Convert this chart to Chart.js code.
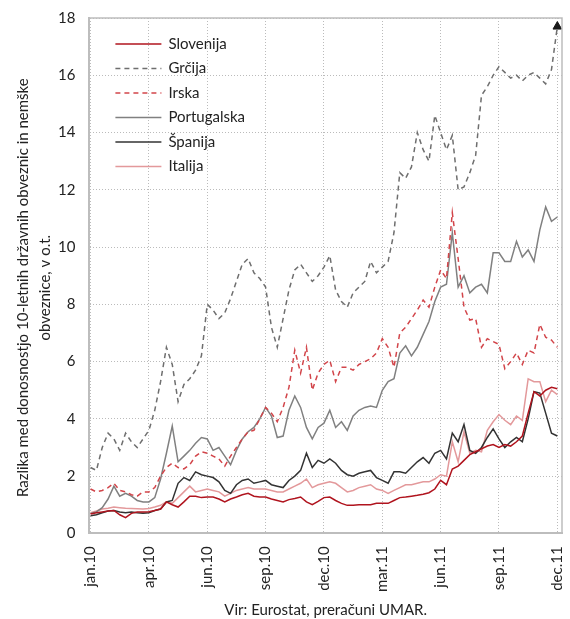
<!DOCTYPE html>
<html>
<head>
<meta charset="utf-8">
<script src="https://cdn.jsdelivr.net/npm/chart.js@4.4.0/dist/chart.umd.min.js"></script>
<style>
    html, body { margin: 0; padding: 0; background: #fff; }
    #wrap { width: 570px; height: 619px; }
</style>
</head>
<body>
<div id="wrap"><canvas id="spreadChart"></canvas></div>
<script>
// one label every 10 points
const tickLabels = ["jan.10", "apr.10", "jun.10", "sep.10", "dec.10", "mar.11", "jun.11", "sep.11", "dec.11"];

const slovenia = [0.68, 0.72, 0.75, 0.78, 0.8, 0.65, 0.55, 0.7, 0.75, 0.75,
    0.76, 0.8, 0.85, 1.1, 1.0, 0.92, 1.1, 1.3, 1.3, 1.25,
    1.27, 1.27, 1.2, 1.1, 1.2, 1.27, 1.35, 1.4, 1.3, 1.27,
    1.27, 1.2, 1.15, 1.1, 1.18, 1.22, 1.27, 1.1, 1.0, 1.12,
    1.25, 1.27, 1.15, 1.05, 0.98, 0.98, 1.0, 1.0, 1.0, 1.05,
    1.05, 1.05, 1.15, 1.25, 1.27, 1.3, 1.33, 1.37, 1.42, 1.55,
    1.85, 1.7, 2.25, 2.35, 2.55, 2.75, 2.85, 2.95, 3.05, 3.1,
    3.0, 3.1, 3.05, 3.2, 3.4, 4.2, 4.95, 4.8, 5.0, 5.1,
    5.05];

const greece = [2.3, 2.2, 3.0, 3.5, 3.3, 2.9, 3.5, 3.2, 3.0, 3.3,
    3.6, 4.3, 5.3, 6.5, 5.9, 4.6, 5.2, 5.4, 5.7, 6.2,
    8.0, 7.8, 7.5, 7.7, 8.2, 8.8, 9.4, 9.6, 9.1, 8.9,
    8.6, 7.2, 6.5, 7.5, 8.5, 9.2, 9.4, 9.1, 8.8, 9.0,
    9.3, 9.7, 8.5, 8.1, 7.9, 8.4, 8.6, 8.8, 9.5, 9.1,
    9.3, 9.5, 10.5, 12.6, 12.4, 12.8, 14.0, 13.4, 13.0, 14.6,
    14.0, 13.4, 13.9, 12.0, 12.1, 12.6, 13.2, 15.3, 15.6, 16.0,
    16.3, 16.1, 15.9, 16.0, 15.8, 16.0, 16.1, 15.9, 15.7, 16.2,
    17.7];

const ireland = [1.55, 1.45, 1.5, 1.6, 1.75, 1.5, 1.45, 1.35, 1.3, 1.45,
    1.45, 1.6, 2.0, 2.3, 2.45, 2.3, 2.25, 2.4, 2.7, 2.85,
    2.8, 2.7, 2.6, 2.35, 2.7, 3.0, 3.3, 3.55, 3.6, 4.0,
    4.4, 4.2, 3.9, 4.4, 5.1, 6.4, 5.6, 6.5, 5.0, 5.6,
    5.9, 6.05, 5.3, 5.8, 5.8, 5.7, 5.9, 6.0, 6.1, 6.3,
    6.8, 6.5, 5.8, 7.0, 7.2, 7.5, 7.8, 8.15, 7.9, 8.6,
    9.2, 8.9, 11.2, 9.6, 7.9, 7.45, 7.5, 6.5, 6.8, 6.7,
    6.6, 5.75, 6.0, 6.3, 5.9, 6.4, 6.3, 7.3, 6.85, 6.75,
    6.5];

const portugal = [0.7, 0.75, 0.9, 1.2, 1.65, 1.3, 1.4, 1.3, 1.15, 1.1,
    1.1, 1.25, 1.9, 2.8, 3.75, 2.5, 2.7, 2.9, 3.15, 3.35,
    3.3, 2.9, 3.0, 2.7, 2.4, 2.9, 3.3, 3.55, 3.7, 4.0,
    4.4, 4.1, 3.35, 3.4, 4.3, 4.8, 4.4, 3.7, 3.3, 3.7,
    3.85, 4.3, 3.7, 3.9, 3.6, 4.1, 4.3, 4.4, 4.45, 4.4,
    5.0, 5.3, 5.4, 6.3, 6.55, 6.2, 6.5, 6.95, 7.4, 8.1,
    8.6, 8.7, 10.5, 8.6, 9.0, 8.4, 8.6, 8.7, 8.4, 9.8,
    9.8, 9.5, 9.5, 10.2, 9.65, 9.9, 9.5, 10.6, 11.4, 10.9,
    11.05];

const spain = [0.62, 0.65, 0.72, 0.78, 0.8, 0.75, 0.72, 0.75, 0.72, 0.7,
    0.72, 0.8, 0.85, 1.1, 1.15, 1.75, 1.95, 1.85, 2.15, 2.05,
    2.0, 1.95, 1.8, 1.5, 1.4, 1.7, 1.85, 1.9, 1.75, 1.8,
    1.85, 1.7, 1.65, 1.6, 1.85, 2.0, 2.2, 2.8, 2.3, 2.55,
    2.45, 2.6, 2.45, 2.2, 2.05, 2.0, 2.1, 2.15, 2.2, 1.95,
    1.85, 1.75, 2.15, 2.15, 2.1, 2.3, 2.5, 2.65, 2.45, 2.8,
    2.9, 2.6, 3.5, 3.2, 3.8, 2.9, 2.8, 3.0, 3.35, 3.65,
    3.3, 3.0, 3.2, 3.35, 3.2, 4.0, 4.95, 4.9, 4.2, 3.5,
    3.4];

const italy = [0.72, 0.78, 0.85, 0.88, 0.92, 0.9, 0.88, 0.87, 0.86, 0.85,
    0.87, 0.92, 0.98, 1.1, 1.05, 1.25, 1.45, 1.65, 1.45, 1.5,
    1.55, 1.5, 1.45, 1.3, 1.4, 1.5, 1.55, 1.6, 1.55, 1.55,
    1.55, 1.5, 1.45, 1.45, 1.55, 1.65, 1.75, 1.9, 1.6, 1.7,
    1.75, 1.8, 1.75, 1.6, 1.45, 1.5, 1.6, 1.65, 1.7, 1.55,
    1.5, 1.4, 1.5, 1.6, 1.7, 1.7, 1.75, 1.8, 1.8, 1.9,
    2.05, 2.0, 3.2, 2.5, 3.55, 2.8, 2.9, 2.85, 3.6, 3.9,
    4.15, 3.95, 3.8, 4.1, 3.95, 5.4, 5.3, 5.3, 4.6, 5.0,
    4.85];

const yTitle = ["Razlika med donosnostjo 10-letnih državnih obveznic in nemške", "obveznice, v o.t."];

const FONT = "Lato";
const TEXT = "#222";

function toPoints(arr) {
    return arr.map((v, i) => ({ x: i, y: v }));
}

// frame, legend inside the plot and the y title (sits a bit below centre in the original)
const extras = {
    id: "extras",
    afterDatasetsDraw(chart) {
        const ctx = chart.ctx;
        const area = chart.chartArea;
        ctx.save();
        ctx.strokeStyle = "#bdbdbd";
        ctx.lineWidth = 1.5;
        ctx.beginPath();
        ctx.moveTo(area.left, area.top);
        ctx.lineTo(area.right, area.top);
        ctx.lineTo(area.right, area.bottom);
        ctx.stroke();

        ctx.font = "15px " + FONT;
        ctx.textBaseline = "middle";
        ctx.fillStyle = TEXT;
        chart.data.datasets.forEach((ds, i) => {
            const y = area.top + 26 + i * 24.5;
            const x0 = area.left + 26;
            ctx.strokeStyle = ds.borderColor;
            ctx.lineWidth = 1.5;
            ctx.setLineDash(ds.borderDash || []);
            ctx.beginPath();
            ctx.moveTo(x0, y);
            ctx.lineTo(x0 + 46, y);
            ctx.stroke();
            ctx.setLineDash([]);
            ctx.fillText(ds.label, x0 + 53, y);
        });

        const cy = (area.top + area.bottom) / 2 + 12;
        ctx.textAlign = "center";
        yTitle.forEach((line, i) => {
            ctx.save();
            ctx.translate(area.left - 66 + i * 22, cy);
            ctx.rotate(-Math.PI / 2);
            ctx.fillText(line, 0, 0);
            ctx.restore();
        });
        ctx.restore();
    }
};

const lastIdx = greece.length - 1;

new Chart(document.getElementById("spreadChart"), {
    type: "line",
    data: {
        datasets: [
            { label: "Slovenija", data: toPoints(slovenia), borderColor: "#b0141e", borderWidth: 1.5 },
            {
                label: "Grčija", data: toPoints(greece), borderColor: "#6e6e6e", borderWidth: 1.5,
                borderDash: [5, 4],
                pointRadius: (c) => (c.dataIndex === lastIdx ? 5 : 0),
                pointStyle: "triangle",
                pointBackgroundColor: "#1a1a1a",
                pointBorderColor: "#1a1a1a",
                pointBorderWidth: 1
            },
            { label: "Irska", data: toPoints(ireland), borderColor: "#d2454a", borderWidth: 1.5, borderDash: [5, 4] },
            { label: "Portugalska", data: toPoints(portugal), borderColor: "#808080", borderWidth: 1.5 },
            { label: "Španija", data: toPoints(spain), borderColor: "#333333", borderWidth: 1.5 },
            { label: "Italija", data: toPoints(italy), borderColor: "#e3999b", borderWidth: 1.5 }
        ]
    },
    options: {
        responsive: true,
        maintainAspectRatio: false,
        animation: false,
        elements: {
            point: { radius: 0, hoverRadius: 0 },
            line: { tension: 0 }
        },
        layout: { padding: { top: 18, right: 8, left: 44, bottom: 0 } },
        plugins: {
            legend: { display: false },
            tooltip: { enabled: false }
        },
        scales: {
            x: {
                type: "linear",
                min: -0.2,
                max: 80.8,
                afterFit: (s) => { s.paddingRight = 0; },
                ticks: {
                    stepSize: 10,
                    includeBounds: false,
                    autoSkip: false,
                    maxRotation: 90,
                    minRotation: 90,
                    padding: 13,
                    color: TEXT,
                    font: { family: FONT, size: 15 },
                    callback: (v) => tickLabels[Math.round(v / 10)] || ""
                },
                grid: { color: "#bbbbbb", lineWidth: 1, drawTicks: false },
                border: { display: true, color: "#bdbdbd", width: 2, dash: [1, 2] },
                title: {
                    display: true,
                    text: "Vir: Eurostat, preračuni UMAR.",
                    color: TEXT,
                    font: { family: FONT, size: 15 },
                    padding: { top: -4, bottom: 0 }
                }
            },
            y: {
                min: 0,
                max: 18,
                afterFit: (s) => { s.paddingTop = 0; },
                ticks: {
                    stepSize: 2,
                    padding: 14,
                    color: TEXT,
                    font: { family: FONT, size: 15 }
                },
                grid: { color: "#bbbbbb", lineWidth: 1, drawTicks: false },
                border: { display: true, color: "#bdbdbd", width: 2, dash: [1, 2] }
            }
        }
    },
    plugins: [extras]
});
</script>
</body>
</html>
